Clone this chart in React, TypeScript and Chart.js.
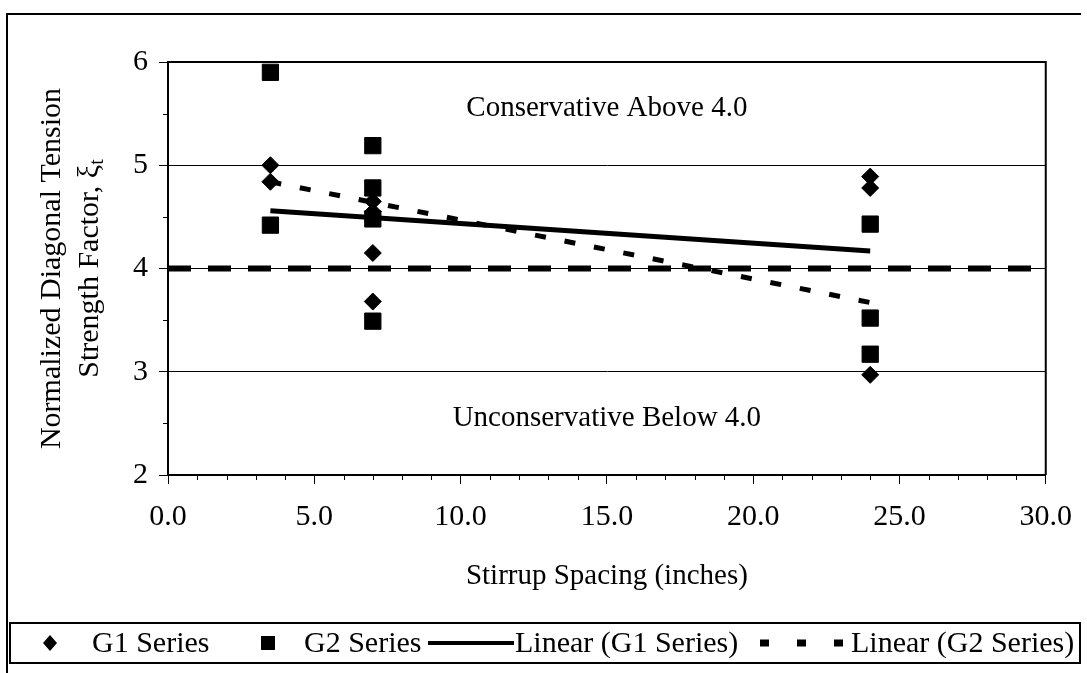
import React, { useEffect, useRef } from "react";
import { Chart, registerables } from "chart.js";

Chart.register(...registerables);

const FONT = '"Liberation Serif", "Times New Roman", serif';

// ---- data ----
const g1Spacing = [3.5, 3.5, 7, 7, 7, 7, 24, 24, 24];
const g1Strength = [5.0, 4.84, 4.65, 4.55, 4.15, 3.68, 4.89, 4.78, 2.97];
const g2Spacing = [3.5, 3.5, 7, 7, 7, 7, 24, 24, 24];
const g2Strength = [5.9, 4.42, 5.19, 4.78, 4.48, 3.49, 4.43, 3.52, 3.17];
const trendSpacing = [3.5, 24];
const trendG1 = [4.56, 4.17];
const trendG2 = [4.84, 3.67];
const limitSpacing = [0, 30];
const limitValue = [4, 4];

const seriesLabels = ["G1 Series", "G2 Series", "Linear (G1 Series)", "Linear (G2 Series)"];
const xTitle = "Stirrup Spacing (inches)";
const yTitleLines = ["Normalized Diagonal Tension", "Strength Factor, ξ"];
const yTitleSub = "t";
const zoneNotes = ["Conservative Above 4.0", "Unconservative Below 4.0"];
const zoneNoteX = [15, 15];
const zoneNoteY = [5.55, 2.55];
const xMin = 0, xMax = 30, xStep = 1, xMajor = 5;
const yMin = 2, yMax = 6, yStep = 0.5, yMajor = 1;

const pts = (xs: number[], ys: number[]) => xs.map((x, i) => ({ x, y: ys[i] }));

const isMajor = (v: number, m: number) => Math.abs(v / m - Math.round(v / m)) < 1e-6;

const decorPlugin = {
  id: "decor",
  afterDraw(chart: any) {
    const ctx: CanvasRenderingContext2D = chart.ctx;
    const a = chart.chartArea;
    const xs = chart.scales.x;
    const ys = chart.scales.y;
    ctx.save();
    ctx.strokeStyle = "#000";
    ctx.fillStyle = "#000";

    // plot border top/right
    ctx.lineWidth = 2;
    ctx.beginPath();
    ctx.moveTo(a.left, a.top);
    ctx.lineTo(a.right, a.top);
    ctx.lineTo(a.right, a.bottom);
    ctx.stroke();

    // minor ticks
    ctx.lineWidth = 1;
    ctx.beginPath();
    xs.ticks.forEach((t: any) => {
      if (!isMajor(t.value, xMajor)) {
        const px = Math.round(xs.getPixelForValue(t.value)) + 0.5;
        ctx.moveTo(px, a.bottom);
        ctx.lineTo(px, a.bottom + 5);
      }
    });
    ys.ticks.forEach((t: any) => {
      if (!isMajor(t.value, yMajor)) {
        const py = Math.round(ys.getPixelForValue(t.value)) + 0.5;
        ctx.moveTo(a.left - 5, py);
        ctx.lineTo(a.left, py);
      }
    });
    ctx.stroke();

    // zone notes
    ctx.font = `29px ${FONT}`;
    ctx.textAlign = "center";
    ctx.textBaseline = "middle";
    zoneNotes.forEach((txt, i) => {
      ctx.fillText(txt, xs.getPixelForValue(zoneNoteX[i]), ys.getPixelForValue(zoneNoteY[i]));
    });

    // y title (two lines, with subscript)
    const cy = (a.top + a.bottom) / 2;
    const lineX = [52, 90];
    yTitleLines.forEach((txt, i) => {
      ctx.save();
      ctx.translate(lineX[i], cy);
      ctx.rotate(-Math.PI / 2);
      ctx.font = `30px ${FONT}`;
      ctx.textBaseline = "middle";
      const w = ctx.measureText(txt).width;
      let sw = 0;
      if (i === yTitleLines.length - 1) {
        ctx.font = `20px ${FONT}`;
        sw = ctx.measureText(yTitleSub).width;
      }
      const start = -(w + sw) / 2;
      ctx.font = `30px ${FONT}`;
      ctx.textAlign = "left";
      ctx.fillText(txt, start, 0);
      if (sw) {
        ctx.font = `20px ${FONT}`;
        ctx.fillText(yTitleSub, start + w, 8);
      }
      ctx.restore();
    });

    // outer frame
    ctx.lineWidth = 2;
    ctx.beginPath();
    ctx.moveTo(7, 673);
    ctx.lineTo(7, 14);
    ctx.lineTo(1081, 14);
    ctx.stroke();

    // legend box
    ctx.strokeRect(10, 623, 1070, 40);
    const ly = 643;
    ctx.font = `30px ${FONT}`;
    ctx.textAlign = "left";
    ctx.textBaseline = "middle";
    // diamond
    const dx = 50;
    ctx.beginPath();
    ctx.moveTo(dx, ly - 8);
    ctx.lineTo(dx + 7, ly);
    ctx.lineTo(dx, ly + 8);
    ctx.lineTo(dx - 7, ly);
    ctx.closePath();
    ctx.fill();
    ctx.fillText(seriesLabels[0], 92, ly + 1);
    // square
    ctx.fillRect(268 - 7, ly - 7, 14, 14);
    ctx.fillText(seriesLabels[1], 304, ly + 1);
    // solid line
    ctx.lineWidth = 4;
    ctx.beginPath();
    ctx.moveTo(428, ly);
    ctx.lineTo(514, ly);
    ctx.stroke();
    ctx.fillText(seriesLabels[2], 515, ly + 1);
    // dashed
    ctx.setLineDash([9, 28]);
    ctx.lineWidth = 7;
    ctx.beginPath();
    ctx.moveTo(760, ly);
    ctx.lineTo(848, ly);
    ctx.stroke();
    ctx.setLineDash([]);
    ctx.fillText(seriesLabels[3], 851, ly + 1);

    ctx.restore();
  },
};

export default function App() {
  const ref = useRef<HTMLCanvasElement | null>(null);
  useEffect(() => {
    if (!ref.current) return;
    const chart = new Chart(ref.current, {
      type: "scatter",
      data: {
        datasets: [
          {
            label: seriesLabels[0],
            data: pts(g1Spacing, g1Strength),
            pointStyle: "rectRot",
            pointRadius: 8.5,
            backgroundColor: "#000",
            borderColor: "#000",
            borderWidth: 1,
          },
          {
            label: seriesLabels[1],
            data: pts(g2Spacing, g2Strength),
            pointStyle: "rect",
            pointRadius: 11.5,
            backgroundColor: "#000",
            borderColor: "#000",
            borderWidth: 1,
          },
          {
            label: seriesLabels[2],
            data: pts(trendSpacing, trendG1),
            showLine: true,
            pointRadius: 0,
            borderColor: "#000",
            borderWidth: 5,
          },
          {
            label: seriesLabels[3],
            data: pts(trendSpacing, trendG2),
            showLine: true,
            pointRadius: 0,
            borderColor: "#000",
            borderWidth: 5,
            borderDash: [11, 19],
          },
          {
            label: "limit",
            data: pts(limitSpacing, limitValue),
            showLine: true,
            pointRadius: 0,
            borderColor: "#000",
            borderWidth: 6,
            borderDash: [23, 17],
          },
        ],
      },
      options: {
        animation: false,
        responsive: false,
        layout: { padding: { left: 0, right: 40, top: 62, bottom: 73 } },
        plugins: { legend: { display: false }, tooltip: { enabled: false } },
        scales: {
          x: {
            type: "linear",
            min: xMin,
            max: xMax,
            afterFit: (s: any) => {
              s.height = 125;
            },
            ticks: {
              stepSize: xStep,
              autoSkip: false,
              maxRotation: 0,
              padding: 15,
              color: "#000",
              font: { family: FONT, size: 30 },
              callback: (v: any) => (isMajor(Number(v), xMajor) ? Number(v).toFixed(1) : ""),
            },
            grid: {
              drawOnChartArea: false,
              tickLength: 9,
              tickWidth: 1,
              tickColor: (c: any) => (c.tick && isMajor(c.tick.value, xMajor) ? "#000" : "rgba(0,0,0,0)"),
            },
            border: { color: "#000", width: 2 },
            title: {
              display: true,
              text: xTitle,
              color: "#000",
              font: { family: FONT, size: 29 },
              padding: { top: 0, bottom: 6 },
            },
          },
          y: {
            min: yMin,
            max: yMax,
            afterFit: (s: any) => {
              s.width = 168;
            },
            ticks: {
              stepSize: yStep,
              autoSkip: false,
              padding: 11,
              color: "#000",
              font: { family: FONT, size: 30 },
              callback: (v: any) => (isMajor(Number(v), yMajor) ? String(v) : ""),
            },
            grid: {
              color: (c: any) => (c.tick && isMajor(c.tick.value, yMajor) ? "#000" : "rgba(0,0,0,0)"),
              lineWidth: 1,
              tickLength: 9,
              tickColor: (c: any) => (c.tick && isMajor(c.tick.value, yMajor) ? "#000" : "rgba(0,0,0,0)"),
            },
            border: { color: "#000", width: 2 },
          },
        },
      },
      plugins: [decorPlugin],
    } as any);
    return () => chart.destroy();
  }, []);
  return (
    <div style={{ position: "fixed", left: 0, top: 0, width: 1087, height: 673, background: "#fff" }}>
      <canvas ref={ref} width={1087} height={673} style={{ display: "block" }} />
    </div>
  );
}
